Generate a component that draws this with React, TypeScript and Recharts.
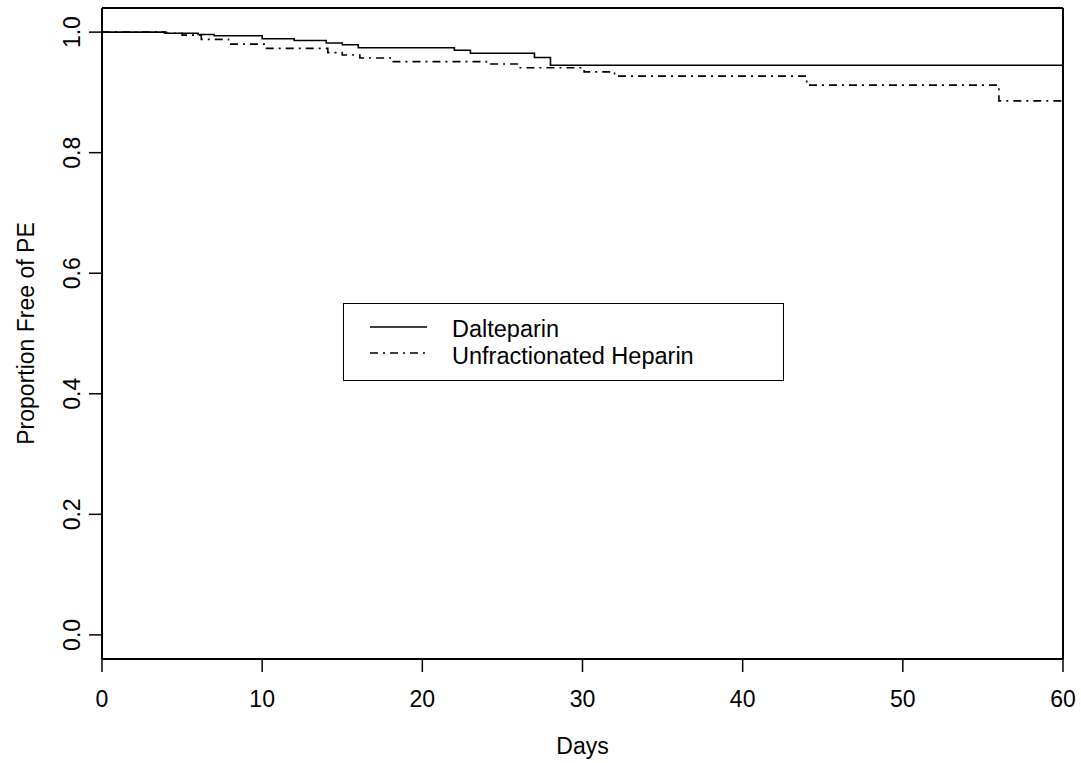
import { LineChart, Line, XAxis, YAxis, ReferenceLine } from 'recharts';

// Kaplan-Meier style step curves
const dalteparinDays = [0, 3.9, 6, 7, 10, 12, 14, 15, 16, 22, 23, 27, 28, 60];
const dalteparinFree = [1.0, 0.998, 0.996, 0.994, 0.989, 0.986, 0.982, 0.979, 0.974, 0.97, 0.965, 0.958, 0.945, 0.945];

const heparinDays = [0, 4, 5, 6.2, 7.9, 10.2, 14.1, 15, 16.1, 18.1, 24, 26, 30.1, 32, 44, 56, 60];
const heparinFree = [1.0, 0.998, 0.995, 0.988, 0.98, 0.973, 0.966, 0.962, 0.957, 0.951, 0.947, 0.941, 0.934, 0.927, 0.912, 0.886, 0.886];

const xTicks = [0, 10, 20, 30, 40, 50, 60];
const yTicks = [0, 0.2, 0.4, 0.6, 0.8, 1.0];
const seriesNames = ['Dalteparin', 'Unfractionated Heparin'];

const dalteparinData = dalteparinDays.map((d, i) => ({ day: d, p: dalteparinFree[i] }));
const heparinData = heparinDays.map((d, i) => ({ day: d, p: heparinFree[i] }));

const FONT = 'Liberation Sans, Arial, Helvetica, sans-serif';
const FS = 23;
const DASH = '8 5 2 5';

const XTick = (props: any) => {
  const { x, y, payload } = props;
  return (
    <text x={x} y={y} dy="0.71em" textAnchor="middle" fontSize={FS} fill="#000" fontFamily={FONT}>
      {payload.value}
    </text>
  );
};

const YTick = (props: any) => {
  const { x, y, payload } = props;
  return (
    <text x={x} y={y} transform={`rotate(-90, ${x}, ${y})`} textAnchor="middle" fontSize={FS} fill="#000" fontFamily={FONT}>
      {Number(payload.value).toFixed(1)}
    </text>
  );
};

const App = () => {
  return (
    <div style={{ position: 'absolute', left: 0, top: 0, width: 1081, height: 763, background: '#fff' }}>
      <LineChart width={1081} height={763} margin={{ top: 8, right: 18, bottom: 0, left: 0 }}>
        <XAxis
          type="number"
          dataKey="day"
          domain={[0, 60]}
          ticks={xTicks}
          allowDataOverflow
          height={104}
          tickSize={13}
          tickMargin={19}
          tick={XTick}
          axisLine={{ stroke: '#000', strokeWidth: 2 }}
          tickLine={{ stroke: '#000', strokeWidth: 1.5 }}
          label={{
            content: (p: any) => {
              const vb = p.viewBox || { x: 102, width: 961 };
              return (
                <text x={vb.x + vb.width / 2} y={754} textAnchor="middle" fontSize={FS} fill="#000" fontFamily={FONT}>
                  Days
                </text>
              );
            },
          }}
        />
        <YAxis
          type="number"
          dataKey="p"
          domain={[-0.04, 1.04]}
          ticks={yTicks}
          allowDataOverflow
          width={102}
          tickSize={13}
          tickMargin={9}
          tick={YTick}
          axisLine={{ stroke: '#000', strokeWidth: 2 }}
          tickLine={{ stroke: '#000', strokeWidth: 1.5 }}
          label={{
            content: (p: any) => {
              const vb = p.viewBox || { y: 8, height: 651 };
              const cy = vb.y + vb.height / 2;
              return (
                <text x={34} y={cy} transform={`rotate(-90, 34, ${cy})`} textAnchor="middle" fontSize={FS} fill="#000" fontFamily={FONT}>
                  Proportion Free of PE
                </text>
              );
            },
          }}
        />
        <ReferenceLine y={1.04} stroke="#000" strokeWidth={2} />
        <ReferenceLine x={60} stroke="#000" strokeWidth={2} />
        <Line
          data={dalteparinData}
          dataKey="p"
          name={seriesNames[0]}
          type="stepAfter"
          stroke="#000"
          strokeWidth={1.6}
          dot={false}
          isAnimationActive={false}
        />
        <Line
          data={heparinData}
          dataKey="p"
          name={seriesNames[1]}
          type="stepAfter"
          stroke="#000"
          strokeWidth={1.6}
          strokeDasharray={DASH}
          dot={false}
          isAnimationActive={false}
        />
      </LineChart>
      <div
        style={{
          position: 'absolute',
          left: 343,
          top: 303,
          width: 441,
          height: 78,
          border: '1.5px solid #000',
          boxSizing: 'border-box',
          background: '#fff',
        }}
      >
        <svg width={438} height={75} style={{ display: 'block' }}>
          {seriesNames.map((name, i) => (
            <g key={name}>
              <line
                x1={26}
                x2={83}
                y1={23 + i * 26}
                y2={23 + i * 26}
                stroke="#000"
                strokeWidth={1.4}
                strokeDasharray={i === 1 ? DASH : undefined}
              />
              <text x={108} y={33 + i * 27} fontSize={23.5} fill="#000" fontFamily={FONT}>
                {name}
              </text>
            </g>
          ))}
        </svg>
      </div>
    </div>
  );
};

export default App;
